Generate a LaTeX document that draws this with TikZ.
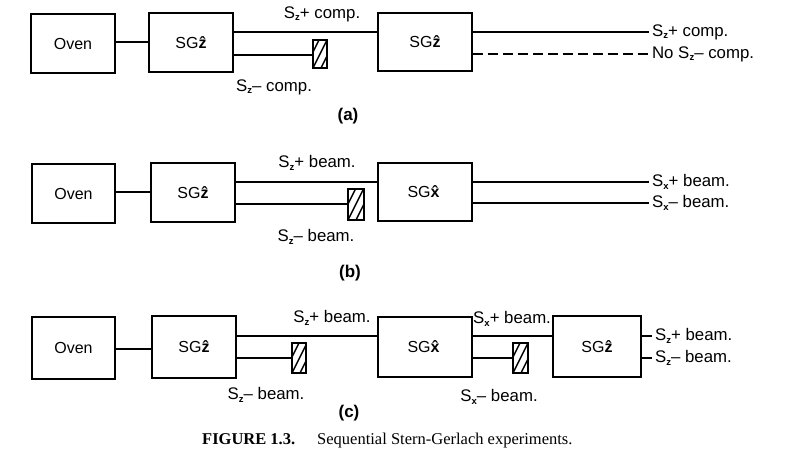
\documentclass[tikz,border=0pt]{standalone}
\usepackage{fontspec}
\setmainfont{Liberation Serif}
\newfontfamily\hv{Liberation Sans}
\newcommand\Spin[1]{S\kern0.2pt\raisebox{-0.25ex}{\fontsize{9.5}{10}\selectfont\bfseries #1}}
% bold unit-vector letters
\newcommand\zhat{\textbf{ẑ}}
\newcommand\xhat{\textbf{x\symbol{"0302}}}
\tikzset{
  sgbox/.style={draw, line width=1.7pt, fill=white, inner sep=0pt,
    font=\hv\fontsize{16}{18}\selectfont},
  beam/.style={line width=1.1pt},
  lbl/.style={inner sep=0pt, font=\hv\fontsize{16.8}{18}\selectfont},
  endlbl/.style={lbl, anchor=west},
  blocker/.style={draw, line width=1.2pt, fill=white, inner sep=0pt,
    path picture={
      \foreach \k in {-3,...,3}
        \draw[line width=1.4pt]
          ([xshift=\k*8pt]path picture bounding box.south west)
          -- ++(18pt,36pt);
    }},
  panel/.style={inner sep=0pt, font=\hv\bfseries\fontsize{17}{19}\selectfont}
}
\begin{document}
\begin{tikzpicture}[x=1pt, y=-1pt]
\useasboundingbox (0,0) rectangle (787,451);

% ---------- (a) ----------
\node[sgbox, minimum width=84pt, minimum height=59pt] (oa) at (73,43.5) {Oven};
\node[sgbox, minimum width=84pt, minimum height=59pt] (za1) at (191,42.5) {SG\zhat};
\node[sgbox, minimum width=94pt, minimum height=58pt] (za2) at (425,42) {SG\zhat};
\node[blocker, minimum width=14pt, minimum height=28pt] (ba) at (320,54) {};
\node[endlbl] (ta1) at (649,32) {\,\Spin{z}+ comp.};
\node[endlbl] (ta2) at (649,54) {\,No \Spin{z}– comp.};
\node[lbl] (la1) at (322,14) {\Spin{z}+ comp.};
\node[lbl] (la2) at (274,87) {\Spin{z}– comp.};
\node[panel] (pa) at (348,116) {(a)};
\draw[beam] (oa.east |- 0,42) -- (za1.west |- 0,42);
\draw[beam] (za1.east |- 0,32) -- (za2.west |- 0,32);
\draw[beam] (za1.east |- 0,55) -- (ba.west |- 0,55);
\draw[beam] (za2.east |- 0,32) -- (ta1.west);
\draw[beam, dash pattern=on 10pt off 5pt] (za2.east |- 0,54) -- (ta2.west);

% ---------- (b) ----------
\node[sgbox, minimum width=83pt, minimum height=59pt] (ob) at (73.5,193.5) {Oven};
\node[sgbox, minimum width=84pt, minimum height=59pt] (zb) at (193,192.5) {SG\zhat};
\node[sgbox, minimum width=94pt, minimum height=58pt] (xb) at (425,192) {SG\xhat};
\node[blocker, minimum width=16pt, minimum height=31pt] (bb) at (356,204.5) {};
\node[endlbl] (tb1) at (649,182) {\,\Spin{x}+ beam.};
\node[endlbl] (tb2) at (649,203) {\,\Spin{x}– beam.};
\node[lbl] (lb1) at (317,163) {\Spin{z}+ beam.};
\node[lbl] (lb2) at (316,237) {\Spin{z}– beam.};
\node[panel] (pb) at (350,273) {(b)};
\draw[beam] (ob.east |- 0,192) -- (zb.west |- 0,192);
\draw[beam] (zb.east |- 0,182) -- (xb.west |- 0,182);
\draw[beam] (zb.east |- 0,204) -- (bb.west |- 0,204);
\draw[beam] (xb.east |- 0,182) -- (tb1.west);
\draw[beam] (xb.east |- 0,203) -- (tb2.west);

% ---------- (c) ----------
\node[sgbox, minimum width=83pt, minimum height=62pt] (oc) at (73.5,348) {Oven};
\node[sgbox, minimum width=84pt, minimum height=62pt] (zc1) at (194,347) {SG\zhat};
\node[sgbox, minimum width=94pt, minimum height=60pt] (xc) at (425,347) {SG\xhat};
\node[sgbox, minimum width=88pt, minimum height=61pt] (zc2) at (597,346.5) {SG\zhat};
\node[blocker, minimum width=14pt, minimum height=30pt] (bc1) at (299,358) {};
\node[blocker, minimum width=15pt, minimum height=30pt] (bc2) at (520.5,358) {};
\node[endlbl] (tc1) at (652,336) {\,\Spin{z}+ beam.};
\node[endlbl] (tc2) at (652,358) {\,\Spin{z}– beam.};
\node[lbl] (lc1) at (332,318) {\Spin{z}+ beam.};
\node[lbl] (lc2) at (266,395) {\Spin{z}– beam.};
\node[lbl] (lc3) at (512,319) {\Spin{x}+ beam.};
\node[lbl] (lc4) at (499,397) {\Spin{x}– beam.};
\node[panel] (pc) at (349,413) {(c)};
\draw[beam] (oc.east |- 0,349) -- (zc1.west |- 0,349);
\draw[beam] (zc1.east |- 0,336) -- (xc.west |- 0,336);
\draw[beam] (zc1.east |- 0,358) -- (bc1.west |- 0,358);
\draw[beam] (xc.east |- 0,336) -- (zc2.west |- 0,336);
\draw[beam] (xc.east |- 0,358) -- (bc2.west |- 0,358);
\draw[beam] (zc2.east |- 0,336) -- (tc1.west);
\draw[beam] (zc2.east |- 0,358) -- (tc2.west);

% ---------- caption ----------
\node[anchor=west, inner sep=0pt, font=\fontsize{16.5}{18}\selectfont] (cap) at (202,441)
  {\textbf{FIGURE 1.3.}\hspace{22pt}Sequential Stern-Gerlach experiments.};
\end{tikzpicture}
\end{document}
